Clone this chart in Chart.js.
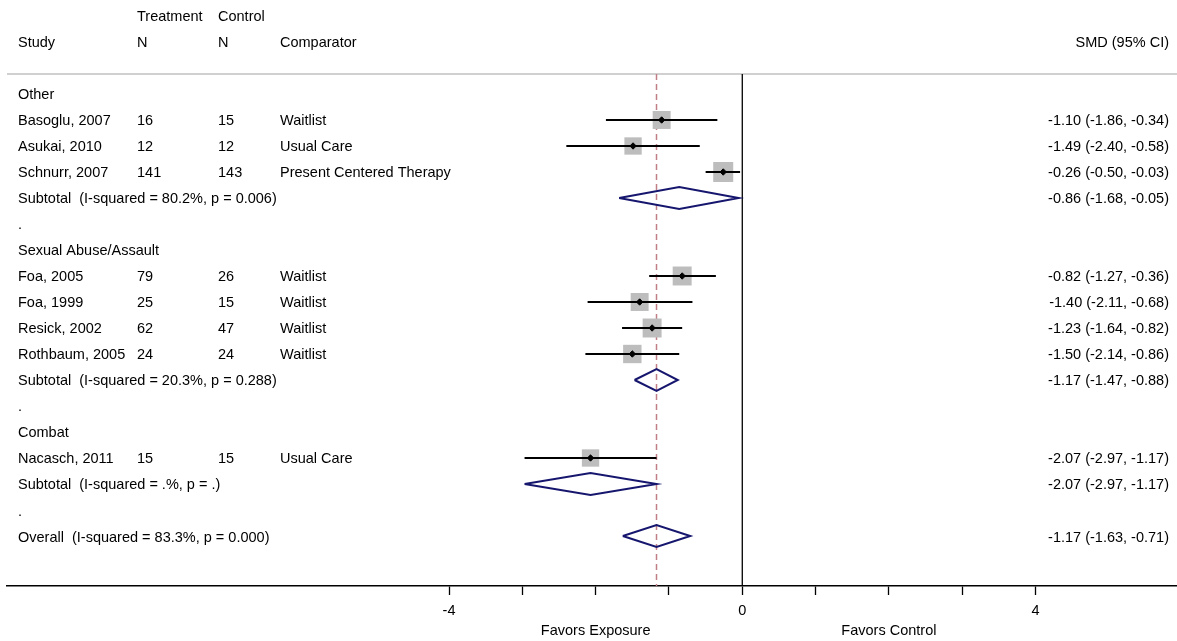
<!DOCTYPE html>
<html>
<head>
<meta charset="utf-8">
<script src="https://cdn.jsdelivr.net/npm/chart.js@4.4.1/dist/chart.umd.min.js"></script>
<style>
  html, body { margin: 0; padding: 0; background: #fff; }
  canvas { display: block; }
</style>
</head>
<body>
<canvas id="forest-plot" width="1177" height="641"></canvas>
<script>
// study level data
const groupNames = ['Other', 'Sexual Abuse/Assault', 'Combat'];
const studyNames = ['Basoglu, 2007', 'Asukai, 2010', 'Schnurr, 2007', 'Foa, 2005', 'Foa, 1999', 'Resick, 2002', 'Rothbaum, 2005', 'Nacasch, 2011'];
const studyGroup = [0, 0, 0, 1, 1, 1, 1, 2];
const treatmentN = [16, 12, 141, 79, 25, 62, 24, 15];
const controlN = [15, 12, 143, 26, 15, 47, 24, 15];
const comparators = ['Waitlist', 'Usual Care', 'Present Centered Therapy', 'Waitlist', 'Waitlist', 'Waitlist', 'Waitlist', 'Usual Care'];
const studySmd = [-1.10, -1.49, -0.26, -0.82, -1.40, -1.23, -1.50, -2.07];
const studyLow = [-1.86, -2.40, -0.50, -1.27, -2.11, -1.64, -2.14, -2.97];
const studyHigh = [-0.34, -0.58, -0.03, -0.36, -0.68, -0.82, -0.86, -1.17];
const studyWeight = [11.9, 11.1, 14.8, 13.3, 11.9, 13.3, 12.5, 11.1];

// pooled results
const subtotalText = ['Subtotal  (I-squared = 80.2%, p = 0.006)', 'Subtotal  (I-squared = 20.3%, p = 0.288)', 'Subtotal  (I-squared = .%, p = .)'];
const subtotalSmd = [-0.86, -1.17, -2.07];
const subtotalLow = [-1.68, -1.47, -2.97];
const subtotalHigh = [-0.05, -0.88, -1.17];
const overallText = 'Overall  (I-squared = 83.3%, p = 0.000)';
const overallSmd = -1.17;
const overallLow = -1.63;
const overallHigh = -0.71;

// axis
const xTicks = [-4, -3, -2, -1, 0, 1, 2, 3, 4];
const xTickLabels = ['-4', '', '', '', '0', '', '', '', '4'];
const favorLabels = ['Favors Exposure', 'Favors Control'];
const favorAt = [-2, 2];

const FONT = '14.5px "Liberation Sans", Arial, sans-serif';
const NAVY = '#16166e';

// work out which row everything sits on
const studyRow = [];
const groupRow = [];
const subtotalRow = [];
const dotRows = [];
let r = 0;
groupNames.forEach((g, gi) => {
    groupRow[gi] = r++;
    studyNames.forEach((s, i) => {
        if (studyGroup[i] === gi) studyRow[i] = r++;
    });
    subtotalRow[gi] = r++;
    dotRows.push(r++);
});
const overallRow = r;
const lineTop = -0.77;
const yMin = -3.615;
const yMax = 18.923;

function ciText(est, lo, hi) {
    return est.toFixed(2) + ' (' + lo.toFixed(2) + ', ' + hi.toFixed(2) + ')';
}

function diamond(est, lo, hi, row) {
    const h = 0.42;
    return [{x: lo, y: row}, {x: est, y: row - h}, {x: hi, y: row}, {x: est, y: row + h}, {x: lo, y: row}];
}

let datasets = [];

// black point markers on top
datasets.push({
    data: studySmd.map((v, i) => ({x: v, y: studyRow[i]})),
    pointStyle: 'rectRot',
    pointRadius: 3.2,
    backgroundColor: '#000',
    borderColor: '#000',
    borderWidth: 1,
    order: 0
});

studySmd.forEach((v, i) => {
    datasets.push({
        data: [{x: studyLow[i], y: studyRow[i]}, {x: studyHigh[i], y: studyRow[i]}],
        showLine: true,
        borderColor: '#000',
        borderWidth: 2,
        pointRadius: 0,
        order: 1
    });
});

subtotalSmd.forEach((v, i) => {
    datasets.push({
        data: diamond(v, subtotalLow[i], subtotalHigh[i], subtotalRow[i]),
        showLine: true,
        borderColor: NAVY,
        borderWidth: 2,
        pointRadius: 0,
        order: 1
    });
});
datasets.push({
    data: diamond(overallSmd, overallLow, overallHigh, overallRow),
    showLine: true,
    borderColor: NAVY,
    borderWidth: 2,
    pointRadius: 0,
    order: 1
});

// weight boxes
datasets.push({
    data: studySmd.map((v, i) => ({x: v, y: studyRow[i]})),
    pointStyle: 'rect',
    pointRadius: studyWeight.map(w => 5.2 * Math.sqrt(w) / Math.SQRT2),
    backgroundColor: '#bdbdbd',
    borderWidth: 0,
    order: 2
});

// null line and overall effect line
datasets.push({
    data: [{x: 0, y: lineTop}, {x: 0, y: yMax}],
    showLine: true,
    borderColor: '#000',
    borderWidth: 1.3,
    pointRadius: 0,
    order: 3
});
datasets.push({
    data: [{x: overallSmd, y: lineTop}, {x: overallSmd, y: yMax}],
    showLine: true,
    borderColor: '#c07f86',
    borderWidth: 1.5,
    borderDash: [6, 4],
    pointRadius: 0,
    order: 3
});

const textPlugin = {
    id: 'forestText',
    beforeDatasetsDraw(chart) {
        const ctx = chart.ctx;
        const y = chart.scales.y;
        const area = chart.chartArea;
        ctx.save();
        ctx.strokeStyle = '#d0d0d0';
        ctx.lineWidth = 2;
        ctx.beginPath();
        ctx.moveTo(area.left, y.getPixelForValue(lineTop));
        ctx.lineTo(area.right, y.getPixelForValue(lineTop));
        ctx.stroke();
        ctx.restore();
    },
    afterDatasetsDraw(chart) {
        const ctx = chart.ctx;
        const y = chart.scales.y;
        ctx.save();
        ctx.font = FONT;
        ctx.fillStyle = '#000';
        ctx.textBaseline = 'middle';

        const put = (txt, x, row, align) => {
            ctx.textAlign = align || 'left';
            ctx.fillText(txt, x, y.getPixelForValue(row) + 1.5);
        };

        // header
        put('Treatment', 137, -3);
        put('Control', 218, -3);
        put('Study', 18, -2);
        put('N', 137, -2);
        put('N', 218, -2);
        put('Comparator', 280, -2);
        put('SMD (95% CI)', 1169, -2, 'right');

        groupNames.forEach((g, gi) => put(g, 18, groupRow[gi]));
        studyNames.forEach((s, i) => {
            put(s, 18, studyRow[i]);
            put(String(treatmentN[i]), 137, studyRow[i]);
            put(String(controlN[i]), 218, studyRow[i]);
            put(comparators[i], 280, studyRow[i]);
            put(ciText(studySmd[i], studyLow[i], studyHigh[i]), 1169, studyRow[i], 'right');
        });
        subtotalText.forEach((t, i) => {
            put(t, 18, subtotalRow[i]);
            put(ciText(subtotalSmd[i], subtotalLow[i], subtotalHigh[i]), 1169, subtotalRow[i], 'right');
        });
        dotRows.forEach(row => put('.', 18, row));
        put(overallText, 18, overallRow);
        put(ciText(overallSmd, overallLow, overallHigh), 1169, overallRow, 'right');
        ctx.restore();
    }
};

new Chart(document.getElementById('forest-plot').getContext('2d'), {
    type: 'scatter',
    data: { datasets: datasets },
    options: {
        responsive: false,
        animation: false,
        events: [],
        layout: { autoPadding: false, padding: { left: 7, right: 0, top: 0, bottom: 1 } },
        plugins: { legend: { display: false }, tooltip: { enabled: false } },
        scales: {
            x: {
                type: 'linear',
                min: -10.03,
                max: 5.93,
                afterBuildTicks: (scale) => {
                    scale.ticks = xTicks.map(v => ({ value: v }));
                },
                afterFit: (scale) => {
                    scale.height = 54;
                },
                ticks: {
                    autoSkip: false,
                    maxRotation: 0,
                    padding: 6,
                    color: '#000',
                    font: { family: '"Liberation Sans", Arial, sans-serif', size: 14.5, lineHeight: '20px' },
                    callback: (value, index) => {
                        const k = favorAt.indexOf(value);
                        if (k >= 0) return [xTickLabels[index], favorLabels[k]];
                        return xTickLabels[index];
                    }
                },
                grid: { drawOnChartArea: false, drawTicks: true, tickLength: 9, tickColor: '#000', tickWidth: 1.3 },
                border: { display: true, color: '#000', width: 1.5 }
            },
            y: {
                type: 'linear',
                display: false,
                reverse: true,
                min: yMin,
                max: yMax
            }
        }
    },
    plugins: [textPlugin]
});
</script>
</body>
</html>
